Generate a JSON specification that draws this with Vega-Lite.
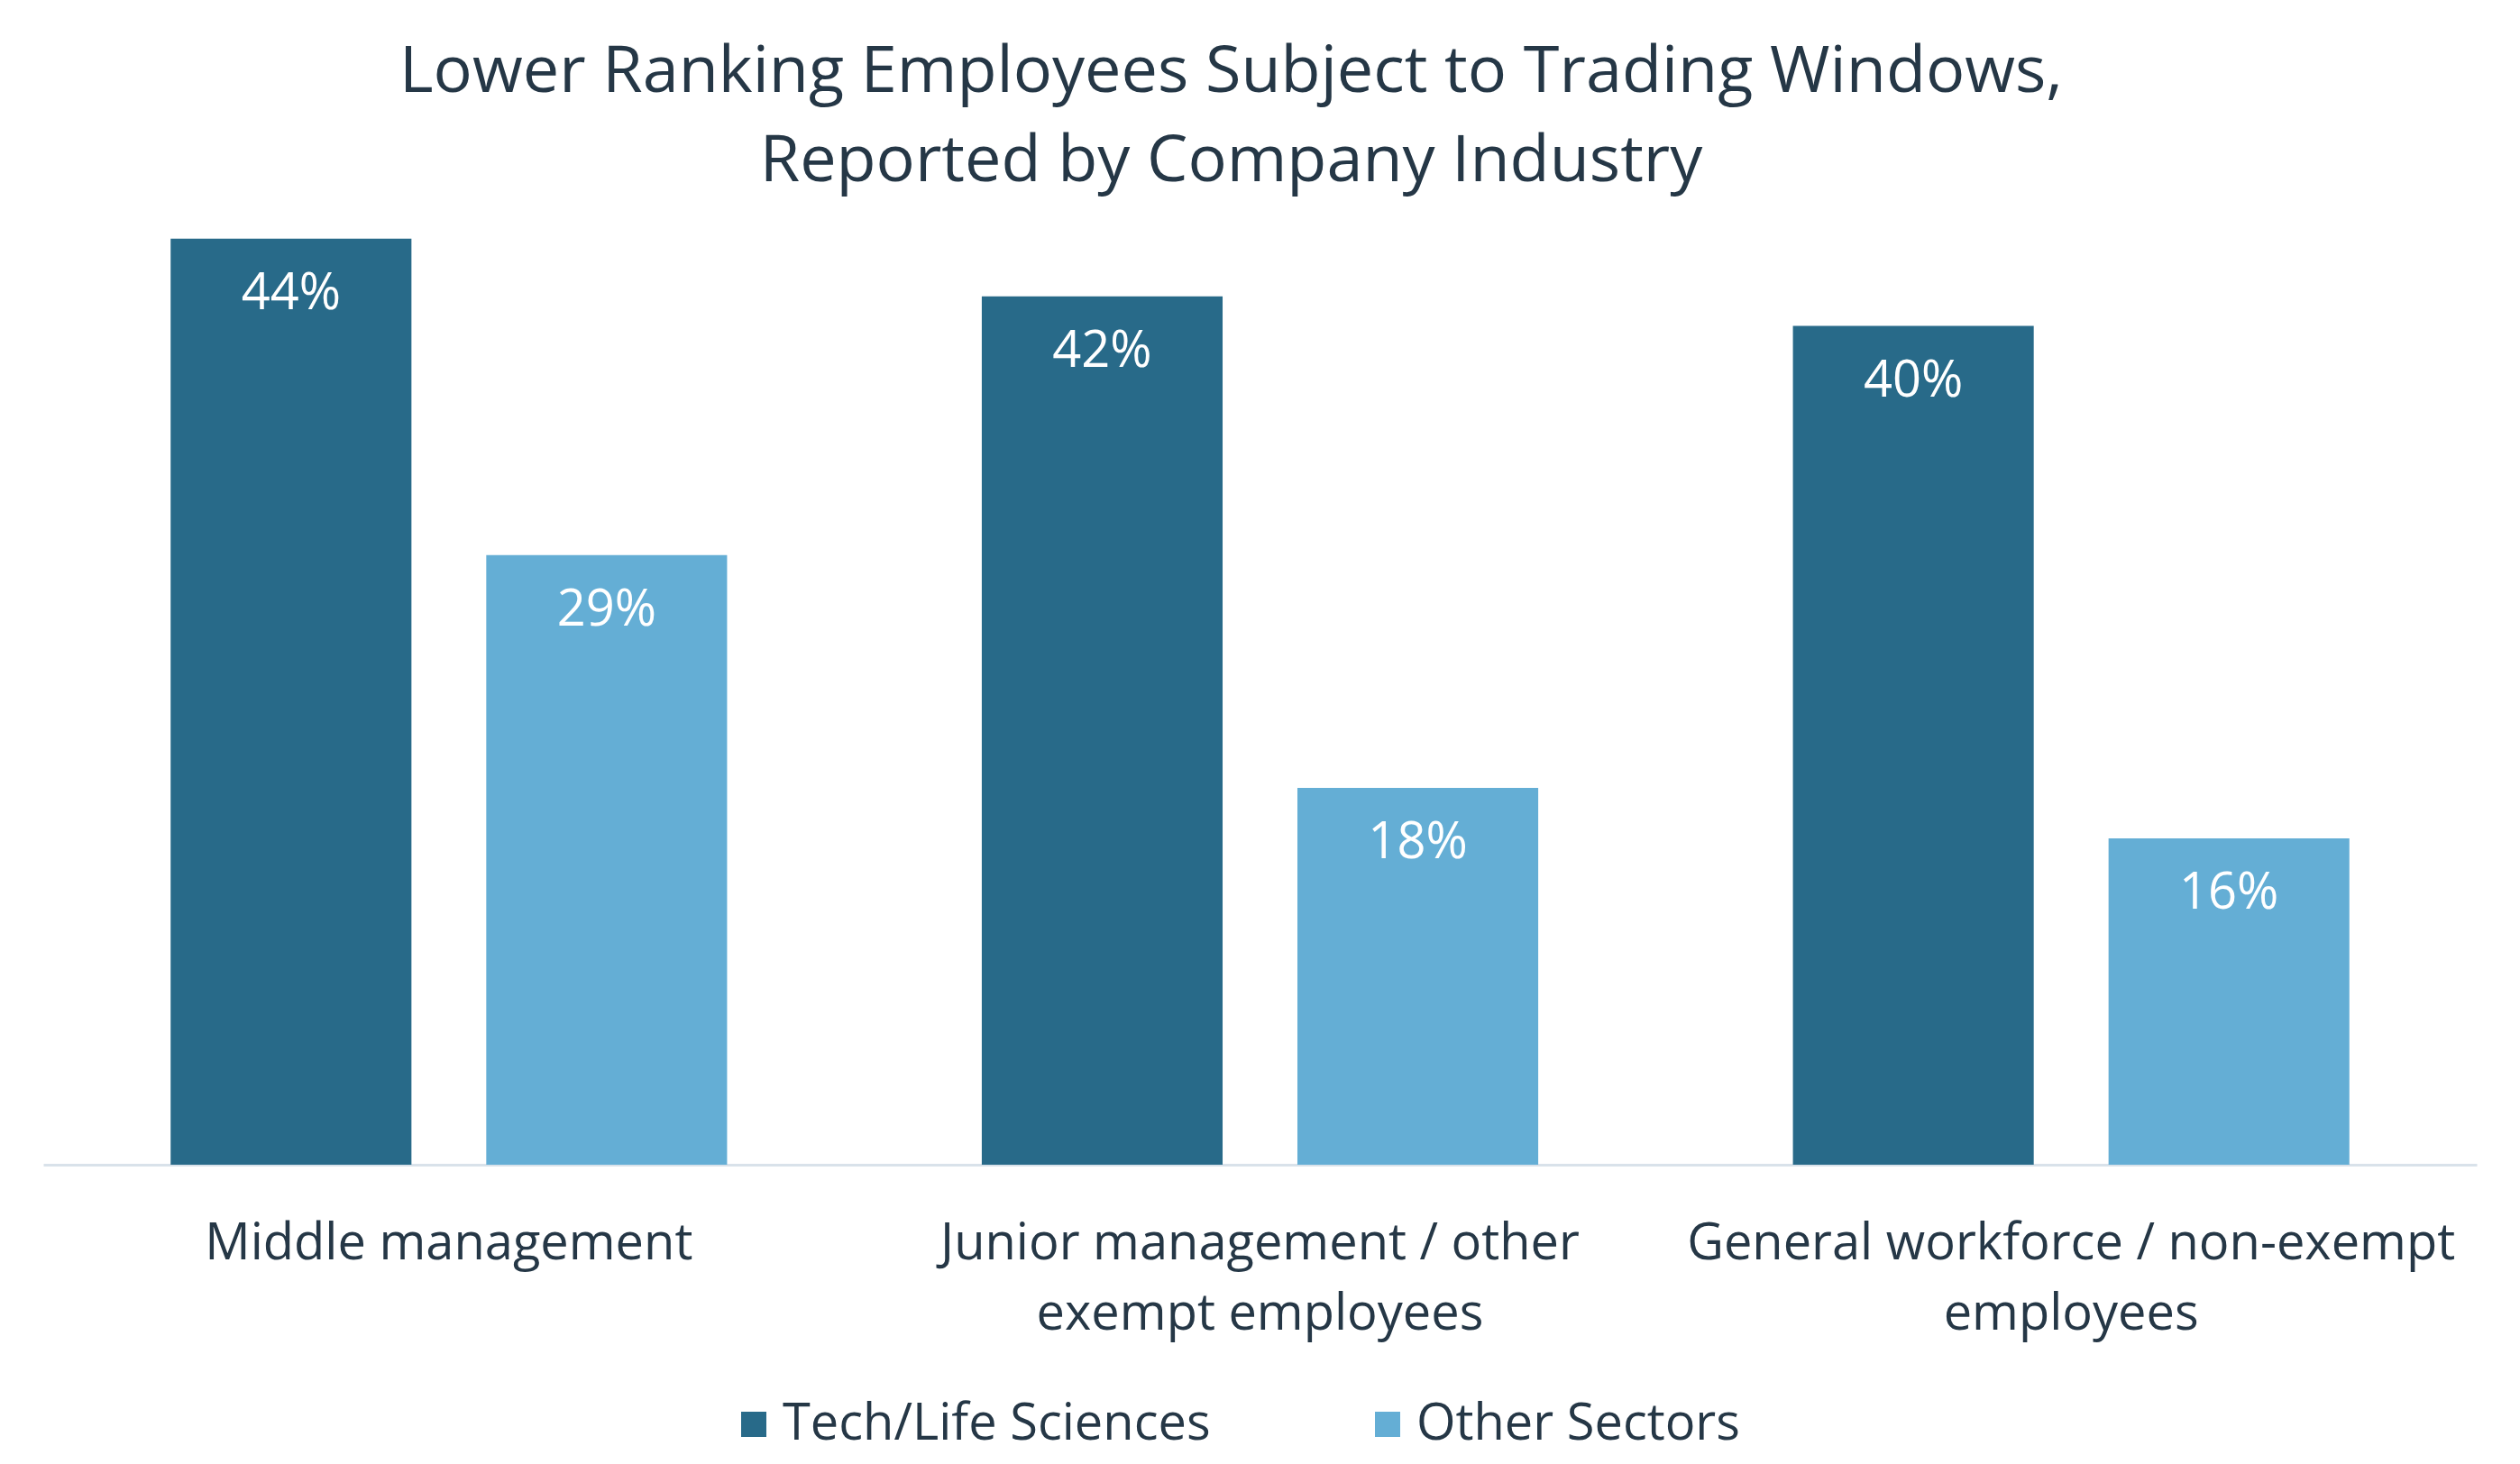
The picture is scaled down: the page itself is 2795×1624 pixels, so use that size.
{
  "$schema": "https://vega.github.io/schema/vega-lite/v6.json",
  "autosize": {"type": "none"},
  "width": 2699,
  "height": 1074,
  "padding": {"left": 48, "top": 218, "right": 48, "bottom": 332},
  "background": "white",
  "config": {
    "view": {"stroke": null},
    "font": "Open Sans"
  },
  "title": {
    "text": ["Lower Ranking Employees Subject to Trading Windows,", "Reported by Company Industry"],
    "fontSize": 72,
    "fontWeight": "normal",
    "color": "#253746",
    "lineHeight": 99,
    "anchor": "middle",
    "dx": -32,
    "offset": 2,
    "font": "Open Sans"
  },
  "data": {
    "values": [
      {"category": "Middle management", "sector": "Tech/Life Sciences", "value": 44.0, "label": "44%"},
      {"category": "Middle management", "sector": "Other Sectors", "value": 28.96, "label": "29%"},
      {"category": "Junior management / other|exempt employees", "sector": "Tech/Life Sciences", "value": 41.26, "label": "42%"},
      {"category": "Junior management / other|exempt employees", "sector": "Other Sectors", "value": 17.9, "label": "18%"},
      {"category": "General workforce / non-exempt|employees", "sector": "Tech/Life Sciences", "value": 39.85, "label": "40%"},
      {"category": "General workforce / non-exempt|employees", "sector": "Other Sectors", "value": 15.5, "label": "16%"}
    ]
  },
  "encoding": {
    "x": {
      "field": "category",
      "type": "nominal",
      "sort": null,
      "scale": {"paddingInner": 0.314, "paddingOuter": 0.157},
      "axis": {
        "title": null,
        "labelAngle": 0,
        "labelExpr": "split(datum.label, '|')",
        "labelFontSize": 56,
        "labelColor": "#253746",
        "labelLineHeight": 78,
        "labelPadding": 60,
        "labelFont": "Open Sans",
        "ticks": false,
        "domainColor": "#D9E2EA",
        "domainWidth": 3,
        "labelLimit": 1000
      }
    },
    "xOffset": {
      "field": "sector",
      "type": "nominal",
      "sort": ["Tech/Life Sciences", "Other Sectors"],
      "scale": {"paddingInner": 0.237, "paddingOuter": 0}
    },
    "y": {
      "field": "value",
      "type": "quantitative",
      "scale": {"domain": [0, 46], "nice": false},
      "axis": null
    }
  },
  "layer": [
    {
      "mark": {"type": "bar"},
      "encoding": {
        "color": {
          "field": "sector",
          "type": "nominal",
          "sort": ["Tech/Life Sciences", "Other Sectors"],
          "scale": {"domain": ["Tech/Life Sciences", "Other Sectors"], "range": ["#286A89", "#64AED5"]},
          "legend": {
            "title": null,
            "orient": "none",
            "direction": "horizontal",
            "legendX": 760,
            "legendY": 1334,
            "symbolType": "square",
            "symbolSize": 784,
            "symbolStrokeWidth": 0,
            "labelFontSize": 56,
            "labelColor": "#253746",
            "labelFont": "Open Sans",
            "labelOffset": 4,
            "columnPadding": 168,
            "labelLimit": 1000
          }
        }
      }
    },
    {
      "mark": {"type": "text", "color": "white", "fontSize": 56, "baseline": "alphabetic", "dy": 78, "font": "Open Sans"},
      "encoding": {
        "text": {"field": "label"}
      }
    }
  ]
}
